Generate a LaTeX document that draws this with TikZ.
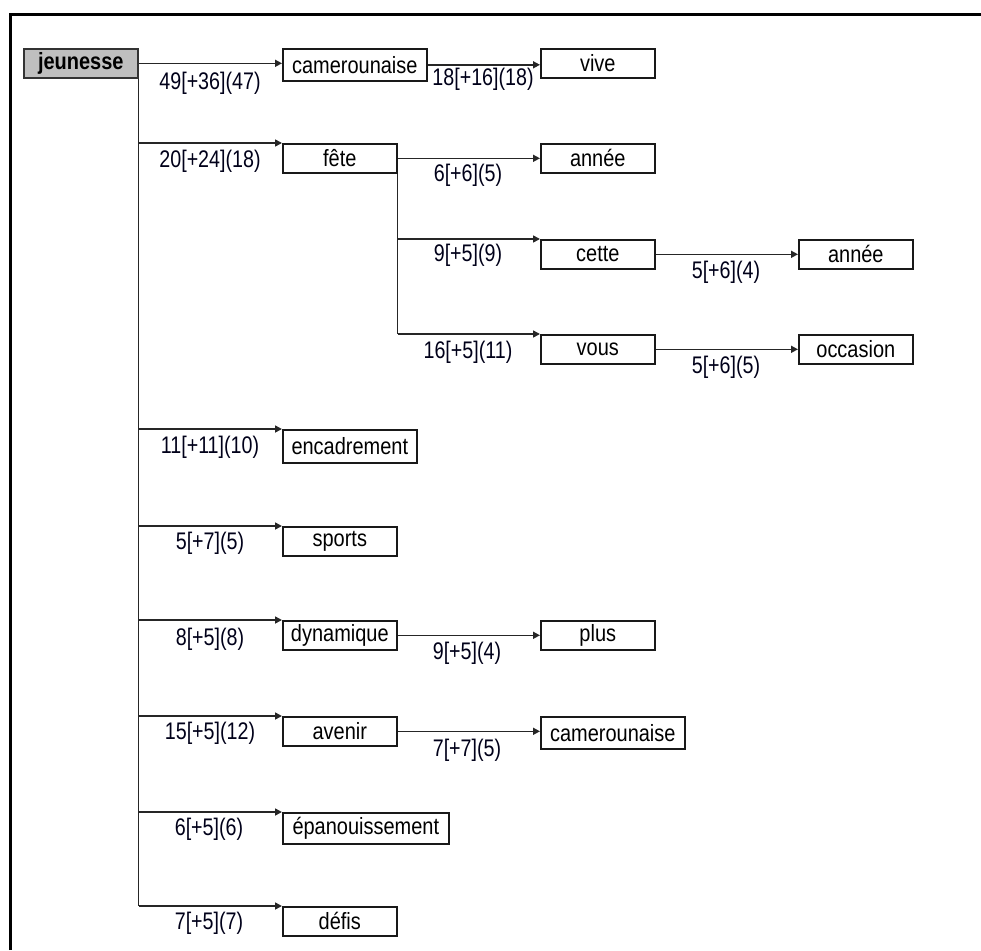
\documentclass[tikz,border=0pt]{standalone}
\usepackage{fontspec}
\usepackage{graphicx}
\setmainfont{Liberation Sans}
\usetikzlibrary{arrows.meta}
\newcommand\nodetx[1]{\scalebox{0.85}[1]{#1}}
\newcommand\labtx[1]{\scalebox{0.82}[1]{#1}}
\begin{document}
\begin{tikzpicture}[x=1pt,y=-1pt,
  box/.style={draw=black!90, line width=1.6pt, anchor=north west, inner sep=0pt,
    minimum width=114pt, minimum height=29pt, font=\fontsize{23.5pt}{26pt}\selectfont},
  rootbox/.style={box, fill=black!25, draw=black!80, font=\fontsize{23.5pt}{26pt}\selectfont\bfseries},
  lab/.style={inner sep=0pt, font=\fontsize{24pt}{26pt}\selectfont, text=black!90!blue},
  conn/.style={draw=black!85, line width=1.6pt},
  arr/.style={conn, -{Triangle[length=7pt,width=7pt]}}
]
\useasboundingbox (0,0) rectangle (981,950);
% frame
\draw[line width=3pt] (10,950) -- (10,15) -- (981,15);

% nodes
\node[rootbox] (jeu) at (23,48) {\nodetx{jeunesse}};
\node[box, minimum width=144pt, minimum height=32pt] (cam1) at (282,48) {\nodetx{camerounaise}};
\node[box] (vive) at (540,48) {\nodetx{vive}};
\node[box] (fete) at (282,143) {\nodetx{fête}};
\node[box] (annee1) at (540,143) {\nodetx{année}};
\node[box] (cette) at (540,239) {\nodetx{cette}};
\node[box] (annee2) at (798,239) {\nodetx{année}};
\node[box] (vous) at (540,334) {\nodetx{vous}};
\node[box] (occ) at (798,334) {\nodetx{occasion}};
\node[box, minimum width=134pt, minimum height=33pt] (encad) at (282,429) {\nodetx{encadrement}};
\node[box] (sports) at (282,526) {\nodetx{sports}};
\node[box] (dyn) at (282,620) {\nodetx{dynamique}};
\node[box] (plus) at (540,620) {\nodetx{plus}};
\node[box] (avenir) at (282,716) {\nodetx{avenir}};
\node[box, minimum width=144pt, minimum height=32pt] (cam2) at (540,716) {\nodetx{camerounaise}};
\node[box, minimum width=166pt, minimum height=31pt] (epan) at (282,812) {\nodetx{épanouissement}};
\node[box] (defis) at (282,906) {\nodetx{défis}};

% connectors from jeunesse
\draw[arr] (jeu.east) -- (jeu.east -| cam1.west);
\draw[conn] (jeu.south east) -- (jeu.south east |- defis.north west);
\foreach \n in {fete,encad,sports,dyn,avenir,epan,defis}
  \draw[arr] (jeu.east |- \n.north west) -- (\n.north west);

% from camerounaise
\draw[arr] (cam1.east) -- (cam1.east -| vive.west);

% from fete
\draw[arr] (fete.east) -- (fete.east -| annee1.west);
\draw[conn] (fete.south east) -- (fete.south east |- vous.north west);
\foreach \n in {cette,vous}
  \draw[arr] (fete.east |- \n.north west) -- (\n.north west);

% single children
\draw[arr] (cette.east) -- (cette.east -| annee2.west);
\draw[arr] (vous.east) -- (vous.east -| occ.west);
\draw[arr] (dyn.east) -- (dyn.east -| plus.west);
\draw[arr] (avenir.east) -- (avenir.east -| cam2.west);

% labels
\node[lab] (l1) at (210,83) {\labtx{49[+36](47)}};
\node[lab] (l2) at (210,161) {\labtx{20[+24](18)}};
\node[lab] (l3) at (483,79) {\labtx{18[+16](18)}};
\node[lab] (l4) at (468,175) {\labtx{6[+6](5)}};
\node[lab] (l5) at (468,255) {\labtx{9[+5](9)}};
\node[lab] (l6) at (726,272) {\labtx{5[+6](4)}};
\node[lab] (l7) at (468,352) {\labtx{16[+5](11)}};
\node[lab] (l8) at (726,367) {\labtx{5[+6](5)}};
\node[lab] (l9) at (210,447) {\labtx{11[+11](10)}};
\node[lab] (l10) at (210,543) {\labtx{5[+7](5)}};
\node[lab] (l11) at (210,639) {\labtx{8[+5](8)}};
\node[lab] (l12) at (467,653) {\labtx{9[+5](4)}};
\node[lab] (l13) at (210,733) {\labtx{15[+5](12)}};
\node[lab] (l14) at (467,750) {\labtx{7[+7](5)}};
\node[lab] (l15) at (209,829) {\labtx{6[+5](6)}};
\node[lab] (l16) at (209,923) {\labtx{7[+5](7)}};
\end{tikzpicture}
\end{document}
